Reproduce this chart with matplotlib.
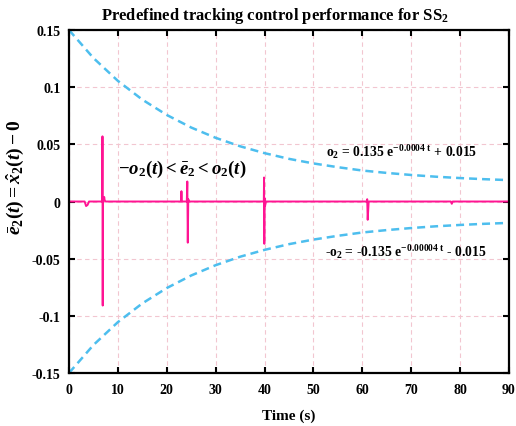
import matplotlib
matplotlib.use('Agg')
import matplotlib.pyplot as plt

plt.rcParams['font.family'] = 'Liberation Serif'
plt.rcParams['font.weight'] = 'bold'
plt.rcParams['mathtext.fontset'] = 'custom'
plt.rcParams['mathtext.rm'] = 'Liberation Serif:bold'
plt.rcParams['mathtext.it'] = 'Liberation Serif:italic:bold'
plt.rcParams['mathtext.bf'] = 'Liberation Serif:bold'

# prescribed performance bounds, read every 5 s
t_bound = [0, 5, 10, 15, 20, 25, 30, 35, 40, 45, 50, 55, 60, 65, 70, 75, 80, 85, 90]
upper_bound = [0.150, 0.1255, 0.1055, 0.0891, 0.0757, 0.0647, 0.0557, 0.0483, 0.0423,
               0.0373, 0.0333, 0.0300, 0.0271, 0.0250, 0.0232, 0.0217, 0.0205, 0.0195, 0.0187]
lower_bound = [-0.150, -0.1255, -0.1055, -0.0891, -0.0757, -0.0647, -0.0557, -0.0483, -0.0423,
               -0.0373, -0.0333, -0.0300, -0.0271, -0.0250, -0.0232, -0.0217, -0.0205, -0.0195, -0.0187]

# tracking error e2 (s, value)
t_err = [0, 3.2, 3.5, 3.8, 4.1, 6.80, 6.85, 6.90, 6.95, 7.00, 7.2, 7.3, 7.5,
         22.9, 23.0, 23.1, 24.1, 24.2, 24.3, 24.4, 24.5, 24.8,
         39.85, 39.9, 39.95, 40.0, 40.1, 40.3,
         60.9, 61.0, 61.1, 61.3, 78.1, 78.3, 78.5, 90]
e_err = [0, 0, -0.004, -0.003, 0, 0, 0.057, -0.091, 0.002, 0, 0.004, 0.001, 0,
         0, 0.009, 0, 0, 0.0175, -0.036, 0.002, 0, 0,
         0, 0.021, -0.037, 0.003, -0.004, 0,
         0, 0.002, -0.016, 0, 0, -0.002, 0, 0]

fig = plt.figure(figsize=(5.16, 4.27), dpi=100)
ax = fig.add_axes([0.1337, 0.1241, 0.8527, 0.8033])

ax.grid(True, color='#f2c6d0', linestyle=(0, (4, 3)), linewidth=0.8)
ax.set_axisbelow(True)

ax.plot(t_bound, upper_bound, color='#4dbeee', linewidth=1.8, linestyle=(0, (3.2, 2.0)))
ax.plot(t_bound, lower_bound, color='#4dbeee', linewidth=1.8, linestyle=(0, (3.2, 2.0)))
ax.plot(t_err, e_err, color='#ff1493', linewidth=1.4)

ax.set_xlim(0, 90)
ax.set_ylim(-0.15, 0.15)
ax.set_xticks(range(0, 91, 10))
ax.set_yticks([-0.15, -0.1, -0.05, 0, 0.05, 0.1, 0.15])
ax.set_yticklabels(['-0.15', '-0.1', '-0.05', '0', '0.05', '0.1', '0.15'])
ax.tick_params(direction='in', length=4, width=1.5, top=True, right=True, labelsize=10)
ax.tick_params(axis='x', pad=7)
ax.tick_params(axis='y', pad=6)
for s in ax.spines.values():
    s.set_linewidth(1.6)

ax.set_title('Predefined tracking control performance for SS$_2$', fontsize=12,
             fontweight='bold', pad=8, x=0.467)
ax.set_xlabel('Time (s)', fontsize=11, fontweight='bold', labelpad=9)
ax.set_ylabel(r'$\bar{e}_2(t) = \hat{x}_2(t) - 0$', fontsize=14)
ax.yaxis.set_label_coords(-0.098, 0.573)

ax.text(10.0, 0.029, r'$-o_2(t) < \bar{e}_2 < o_2(t)$', fontsize=13.5, va='center')
ax.text(52.6, 0.040, r'o$_2$ = 0.135 e$^{\mathrm{-0.0004\ t}}$ + 0.015', fontsize=9.8,
        fontweight='bold', va='baseline')
ax.text(52.4, -0.048, r'-o$_2$ = -0.135 e$^{\mathrm{-0.00004\ t}}$ - 0.015', fontsize=9.8,
        fontweight='bold', va='baseline')

fig.savefig('out.png', dpi=100)
